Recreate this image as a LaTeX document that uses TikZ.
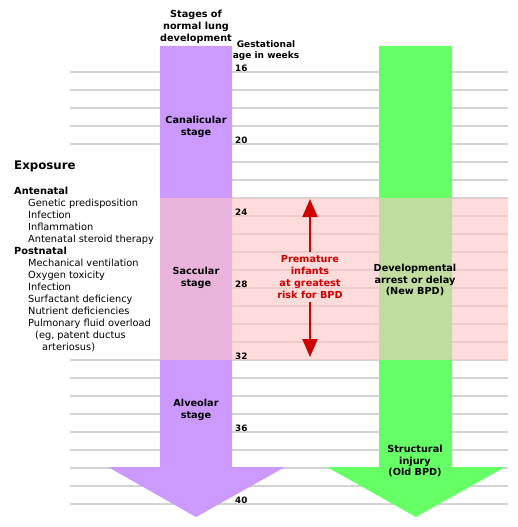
\documentclass[tikz,border=0pt]{standalone}
\usepackage{fontspec}
\setmainfont{DejaVu Sans}
\usepackage{tikz}
\usetikzlibrary{arrows.meta,positioning}
\definecolor{stagepurple}{RGB}{204,153,255}
\definecolor{injurygreen}{RGB}{102,255,102}
\definecolor{riskpink}{RGB}{255,197,197}
\definecolor{gridgray}{RGB}{212,212,212}
\definecolor{riskred}{RGB}{208,0,0}
\tikzstyle{gridline} = [draw=gridgray,line width=1.7pt]
\tikzstyle{stagelabel} = [font=\fontsize{9.7}{11.9}\selectfont\bfseries,align=center,inner sep=0pt]
\tikzstyle{exposureitem} = [font=\fontsize{9.8}{12}\selectfont,anchor=base west,inner sep=0pt]
\tikzstyle{weeklabel} = [font=\fontsize{8.8}{10}\selectfont\bfseries,anchor=base west,inner sep=0pt]
\tikzset{>={Triangle[width=15pt,length=18pt]}}

\begin{document}
\begin{tikzpicture}[x=1pt,y=-1pt]
    \useasboundingbox (0,0) rectangle (517,527);
    % week lines
    \foreach \w in {16,17,18,19,20,32,33,34,35,36,37,38,39,40}
      \draw[gridline] (70,{72+18*(\w-16)}) -- (508,{72+18*(\w-16)});
    \foreach \w in {21,...,31}
      \draw[gridline] (160,{72+18*(\w-16)}) -- (508,{72+18*(\w-16)});
    % the two big arrows
    \fill[stagepurple] (160,46) -- (232,46) -- (232,467) -- (285,467) -- (196,517) -- (108,467) -- (160,467) -- cycle;
    \fill[injurygreen] (379,46) -- (452,46) -- (452,467) -- (505,467) -- (416,517) -- (327,467) -- (379,467) -- cycle;
    \fill[riskpink,opacity=0.6] (160,198) rectangle (508,360);

    \node[stagelabel] (title) at (196,27) {Stages of\\normal lung\\development};
    \node[stagelabel,font=\fontsize{9}{11}\selectfont\bfseries] (gest) at (266,50.5) {Gestational\\age in weeks};
    \foreach \w in {16,20,...,40}
      \node[weeklabel] (wk\w) at (235,{72+18*(\w-16)-1}) {\w};
    \node[stagelabel] (canal) at (196,126.5) {Canalicular\\stage};
    \node[stagelabel] (sacc) at (196,278) {Saccular\\stage};
    \node[stagelabel] (alv) at (196,409.5) {Alveolar\\stage};
    \node[stagelabel] (arrest) at (415,280) {Developmental\\arrest or delay\\(New BPD)};
    \node[stagelabel] (struct) at (415,461) {Structural\\injury\\(Old BPD)};

    \node[stagelabel,text=riskred,inner ysep=3pt] (risk) at (310,277) {Premature\\infants\\at greatest\\risk for BPD};
    \coordinate (risktop) at (310,199);
    \coordinate (riskbot) at (310,357);
    \draw[->,riskred,line width=2pt] (risk.north) -- (risktop);
    \draw[->,riskred,line width=2pt] (risk.south) -- (riskbot);

    \node[font=\fontsize{11.8}{14}\selectfont\bfseries,anchor=base west,inner sep=0pt] (exposure) at (14,169.3) {Exposure};
    \foreach \y/\x/\t [count=\i] in {191/14/\textbf{Antenatal}, 203/28/Genetic predisposition,
        215/28/Infection, 227/28/Inflammation, 239/28/Antenatal steroid therapy,
        251/14/\textbf{Postnatal}, 263/28/Mechanical ventilation, 275/28/Oxygen toxicity,
        287/28/Infection, 299/28/Surfactant deficiency, 311/28/Nutrient deficiencies,
        323/28/Pulmonary fluid overload, 335/35/{(eg, patent ductus}, 347/42/arteriosus)}
      \node[exposureitem] (exp\i) at (\x,{\y+3.6}) {\t};
\end{tikzpicture}
\end{document}
